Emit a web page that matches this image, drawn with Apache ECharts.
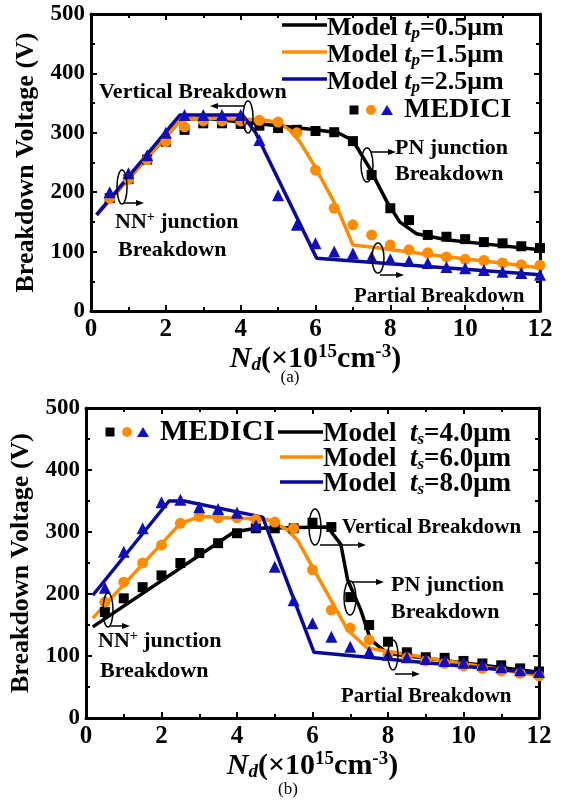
<!DOCTYPE html>
<html>
<head>
<meta charset="utf-8">
<script src="https://cdn.jsdelivr.net/npm/echarts@6/dist/echarts.min.js"></script>
<style>
html, body { margin: 0; padding: 0; background: #fff; }
#chart { width: 563px; height: 806px; }
</style>
</head>
<body>
<div id="chart"></div>
<script>
const FONT = 'Liberation Serif';
const BLACK = '#000000';
const ORANGE = '#ff8c00';
const BLUE = '#0a0a9a';

// doping points used by the MEDICI runs (x10^15 cm^-3)
const nd = [0.5, 1, 1.5, 2, 2.5, 3, 3.5, 4, 4.5, 5, 5.5, 6, 6.5, 7, 7.5, 8, 8.5, 9, 9.5, 10, 10.5, 11, 11.5, 12];

// (a) MEDICI, breakdown voltage (V)
const medA_tp05 = [190, 222, 255, 285, 305, 316, 316, 315, 312, 308, 305, 303, 301, 286, 229, 173, 153, 128, 125, 121, 116, 114, 109, 106];
const medA_tp15 = [190, 222, 255, 285, 310, 320, 320, 320, 321, 318, 300, 237, 173, 145, 128, 111, 103, 98, 91, 87, 85, 81, 78, 77];
const medA_tp25 = [200, 232, 262, 300, 330, 330, 330, 330, 288, 195, 145, 114, 100, 97, 91, 87, 84, 81, 74, 72, 69, 66, 64, 61];

// (a) model curves [Nd, V]
const modA_tp05 = [[0.15, 162], [2.4, 322], [3, 325], [4, 318], [5, 312], [6, 305], [6.6, 300], [7.0, 287], [7.45, 240], [7.9, 185], [8.25, 150], [8.7, 130], [9.5, 120], [10.5, 113], [12, 103]];
const modA_tp15 = [[0.15, 162], [2.4, 322], [3, 325], [4.5, 322], [5.0, 318], [5.3, 305], [5.58, 285], [5.93, 249], [6.57, 175], [7.0, 111], [7.7, 106], [9, 95], [10.5, 84], [12, 73]];
const modA_tp25 = [[0.15, 162], [2.38, 330], [4.05, 330], [4.4, 300], [6.03, 89], [9, 75], [12, 61]];

// (b) MEDICI
const medB_ts4 = [171, 193, 211, 230, 250, 266, 282, 298, 306, 306, 306, 315, 308, 195, 150, 123, 106, 98, 97, 92, 88, 85, 80, 75];
const medB_ts6 = [187, 219, 250, 279, 314, 325, 323, 323, 320, 316, 306, 239, 174, 145, 126, 102, 97, 92, 88, 84, 80, 76, 72, 68];
const medB_ts8 = [210, 268, 306, 348, 352, 340, 337, 331, 311, 244, 190, 153, 131, 115, 107, 102, 98, 95, 92, 89, 86, 82, 77, 74];

// (b) model curves
const modB_ts4 = [[0.18, 147], [3.92, 300], [4.5, 306], [6.4, 308], [6.75, 280], [6.93, 223], [7.28, 174], [7.54, 126], [8.0, 104], [12, 74]];
const modB_ts6 = [[0.18, 161], [2.5, 314], [3.04, 325], [4.8, 320], [5.3, 305], [5.6, 287], [6.93, 142], [7.45, 113], [12, 68]];
const modB_ts8 = [[0.18, 198], [2.2, 350], [2.6, 350], [4.68, 324], [6.04, 106], [12, 72]];

const pairs = vals => vals.map((v, i) => [nd[i], v]);

const chart = echarts.init(document.getElementById('chart'));

const richName = {
  n: { fontFamily: FONT, fontWeight: 'bold', fontStyle: 'italic', fontSize: 30, color: '#000' },
  sub: { fontFamily: FONT, fontWeight: 'bold', fontStyle: 'italic', fontSize: 19, color: '#000', padding: [13, 0, 0, 0] },
  b: { fontFamily: FONT, fontWeight: 'bold', fontSize: 30, color: '#000' },
  sup: { fontFamily: FONT, fontWeight: 'bold', fontSize: 19, color: '#000', padding: [0, 0, 13, 0] }
};

function xAxes(g) {
  const line = { lineStyle: { color: '#000', width: 3 } };
  return [{
    gridIndex: g, type: 'value', min: 0, max: 12, interval: 2,
    axisLine: { onZero: false, ...line },
    axisTick: { inside: true, length: 6, lineStyle: { width: 2, color: '#000' } },
    minorTick: { show: true, splitNumber: 2, length: 4, lineStyle: { width: 2, color: '#000' } },
    axisLabel: { fontFamily: FONT, fontWeight: 'bold', fontSize: 25, color: '#000', margin: 6 },
    splitLine: { show: false },
    name: '{n|N}{sub|d}{b|(×10}{sup|15}{b|cm}{sup|-3}{b|)}',
    nameLocation: 'middle', nameGap: 31,
    nameTextStyle: { rich: richName }
  }, {
    gridIndex: g, type: 'value', min: 0, max: 12, interval: 2, position: 'top',
    axisLine: { onZero: false, ...line },
    axisTick: { inside: true, length: 6, lineStyle: { width: 2, color: '#000' } },
    minorTick: { show: true, splitNumber: 2, length: 4, lineStyle: { width: 2, color: '#000' } },
    axisLabel: { show: false }, splitLine: { show: false }
  }];
}

function yAxes(g) {
  const line = { lineStyle: { color: '#000', width: 3 } };
  return [{
    gridIndex: g, type: 'value', min: 0, max: 500, interval: 100,
    axisLine: { show: true, onZero: false, ...line },
    axisTick: { show: true, inside: true, length: 6, lineStyle: { width: 2, color: '#000' } },
    minorTick: { show: true, splitNumber: 2, length: 4, lineStyle: { width: 2, color: '#000' } },
    axisLabel: { fontFamily: FONT, fontWeight: 'bold', fontSize: 23, color: '#000', margin: 6 },
    splitLine: { show: false },
    name: 'Breakdown Voltage (V)', nameLocation: 'middle', nameGap: 52,
    nameTextStyle: { fontFamily: FONT, fontWeight: 'bold', fontSize: 26, color: '#000' }
  }, {
    gridIndex: g, type: 'value', min: 0, max: 500, interval: 100, position: 'right',
    axisLine: { show: true, onZero: false, ...line },
    axisTick: { show: true, inside: true, length: 6, lineStyle: { width: 2, color: '#000' } },
    minorTick: { show: true, splitNumber: 2, length: 4, lineStyle: { width: 2, color: '#000' } },
    axisLabel: { show: false }, splitLine: { show: false }
  }];
}

function model(name, data, color, g) {
  return {
    name: name, type: 'line', data: data, xAxisIndex: g * 2, yAxisIndex: g * 2,
    showSymbol: false, symbol: 'none', smooth: false,
    lineStyle: { color: color, width: 3.5 }, z: 2
  };
}
function medici(name, vals, symbol, size, color, g) {
  return {
    name: name, type: 'scatter', data: pairs(vals), xAxisIndex: g * 2, yAxisIndex: g * 2,
    symbol: symbol, symbolSize: size, itemStyle: { color: color, opacity: 1 }, z: 3
  };
}

// annotation helpers (ellipse + arrow)
function ellipse(cx, cy, rx, ry) {
  return { type: 'ellipse', shape: { cx: cx, cy: cy, rx: rx, ry: ry }, style: { fill: 'none', stroke: '#000', lineWidth: 1.5 }, z: 10 };
}
function arrow(x1, y, x2) {
  const dir = x2 > x1 ? 1 : -1;
  return [
    { type: 'line', shape: { x1: x1, y1: y, x2: x2 - dir * 6, y2: y }, style: { stroke: '#000', lineWidth: 1.5 }, z: 10 },
    { type: 'polygon', shape: { points: [[x2, y], [x2 - dir * 8, y - 3], [x2 - dir * 8, y + 3]] }, style: { fill: '#000' }, z: 10 }
  ];
}
function label(x, y, text, size) {
  return { type: 'text', x: x, y: y, style: { text: text, font: 'bold ' + (size || 22) + 'px "' + FONT + '"', fill: '#000', textVerticalAlign: 'middle' }, z: 10 };
}
function nnLabel(x, y) {
  return {
    type: 'text', x: x, y: y, z: 10,
    style: {
      text: '{b|NN}{sup|+}{b| junction}', textVerticalAlign: 'middle',
      rich: {
        b: { fontFamily: FONT, fontWeight: 'bold', fontSize: 22, fill: '#000' },
        sup: { fontFamily: FONT, fontWeight: 'bold', fontSize: 14, fill: '#000', padding: [0, 0, 10, 0] }
      }
    }
  };
}
function legendLine(x1, x2, y, color) {
  return { type: 'line', shape: { x1: x1, y1: y, x2: x2, y2: y }, style: { stroke: color, lineWidth: 3.5 }, z: 10 };
}
function legendText(x, y, sub, value, size, gap) {
  return {
    type: 'text', x: x, y: y, z: 10,
    style: {
      text: '{m|Model' + gap + '}{t|t}{s|' + sub + '}{m|=' + value + 'μm}', textVerticalAlign: 'middle',
      rich: {
        m: { fontFamily: FONT, fontWeight: 'bold', fontSize: size, fill: '#000' },
        t: { fontFamily: FONT, fontWeight: 'bold', fontStyle: 'italic', fontSize: size, fill: '#000' },
        s: { fontFamily: FONT, fontWeight: 'bold', fontStyle: 'italic', fontSize: 17, fill: '#000', padding: [12, 0, 0, 0] }
      }
    }
  };
}
function mediciKey(x, y, size) {
  return [
    { type: 'rect', shape: { x: x - 4.5, y: y - 4.5, width: 9, height: 9 }, style: { fill: BLACK }, z: 10 },
    { type: 'circle', shape: { cx: x + 17, cy: y, r: 5 }, style: { fill: ORANGE }, z: 10 },
    { type: 'polygon', shape: { points: [[x + 33, y - 5], [x + 27, y + 5], [x + 39, y + 5]] }, style: { fill: '#1010c8' }, z: 10 },
    label(x + 50, y, 'MEDICI', size)
  ];
}

const graphics = [
  // (a) legend
  legendLine(282, 327, 25, BLACK), legendText(327, 28, 'p', '0.5', 26, ' '),
  legendLine(282, 327, 52, ORANGE), legendText(327, 55, 'p', '1.5', 26, ' '),
  legendLine(282, 327, 79, BLUE), legendText(327, 82, 'p', '2.5', 26, ' '),
  ...mediciKey(354, 110, 28),
  // (a) annotations
  label(99, 92, 'Vertical Breakdown', 22),
  ellipse(248, 117, 5, 16), ...arrow(244, 106, 210),
  label(395, 148, 'PN junction'), label(395, 174, 'Breakdown'),
  ellipse(367, 165, 6, 17), ...arrow(371, 152, 396),
  nnLabel(115, 222), label(118, 250, 'Breakdown'),
  ellipse(122, 187, 5, 17), ...arrow(123, 203, 144),
  label(354, 297, 'Partial Breakdown', 21),
  ellipse(378, 258, 6, 15), ...arrow(380, 275, 404),
  // (b) legend
  ...mediciKey(110, 432, 30),
  legendLine(278, 323, 432, BLACK), legendText(323, 434, 's', '4.0', 27, '  '),
  legendLine(280, 323, 457, ORANGE), legendText(323, 459, 's', '6.0', 27, '  '),
  legendLine(280, 323, 482, BLUE), legendText(323, 484, 's', '8.0', 27, '  '),
  // (b) annotations
  label(342, 528, 'Vertical Breakdown', 21),
  ellipse(315, 527, 6, 18), ...arrow(320, 545, 366),
  label(391, 585, 'PN junction'), label(391, 612, 'Breakdown'),
  ellipse(350, 598, 6, 17), ...arrow(352, 582, 384),
  nnLabel(98, 641), label(100, 671, 'Breakdown'),
  ellipse(108, 610, 5, 17), ...arrow(110, 626, 130),
  label(341, 697, 'Partial Breakdown', 21),
  ellipse(393, 655, 5, 15), ...arrow(395, 674, 420),
  // panel captions
  { type: 'text', x: 290, y: 378, style: { text: '(a)', font: '17px "' + FONT + '"', fill: '#000', textAlign: 'center', textVerticalAlign: 'middle' } },
  { type: 'text', x: 288, y: 790, style: { text: '(b)', font: '17px "' + FONT + '"', fill: '#000', textAlign: 'center', textVerticalAlign: 'middle' } }
];

const option = {
  backgroundColor: '#fff',
  animation: false,
  grid: [
    { left: 91, top: 14, width: 449, height: 297 },
    { left: 85, top: 408, width: 454, height: 310 }
  ],
  xAxis: [...xAxes(0), ...xAxes(1)],
  yAxis: [...yAxes(0), ...yAxes(1)],
  series: [
    model('Model tp=0.5', modA_tp05, BLACK, 0),
    model('Model tp=1.5', modA_tp15, ORANGE, 0),
    model('Model tp=2.5', modA_tp25, BLUE, 0),
    medici('MEDICI tp=0.5', medA_tp05, 'rect', 10, BLACK, 0),
    medici('MEDICI tp=1.5', medA_tp15, 'circle', 11, ORANGE, 0),
    medici('MEDICI tp=2.5', medA_tp25, 'triangle', 12, '#1010b8', 0),
    model('Model ts=4.0', modB_ts4, BLACK, 1),
    model('Model ts=6.0', modB_ts6, ORANGE, 1),
    model('Model ts=8.0', modB_ts8, BLUE, 1),
    medici('MEDICI ts=4.0', medB_ts4, 'rect', 10, BLACK, 1),
    medici('MEDICI ts=6.0', medB_ts6, 'circle', 11, ORANGE, 1),
    medici('MEDICI ts=8.0', medB_ts8, 'triangle', 12, '#1010b8', 1)
  ],
  graphic: graphics
};
chart.setOption(option);
</script>
</body>
</html>
